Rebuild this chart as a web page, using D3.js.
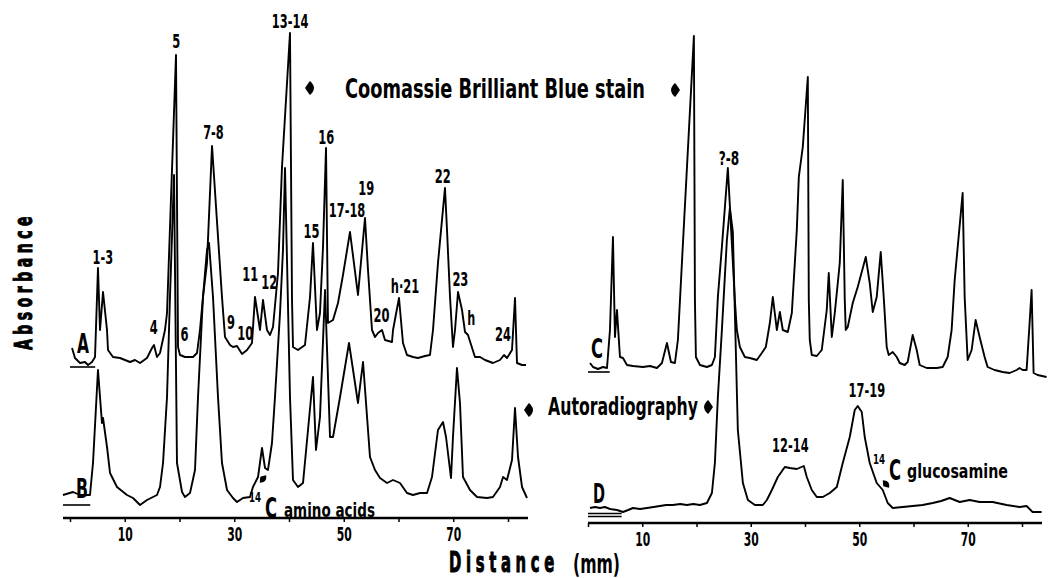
<!DOCTYPE html>
<html><head><meta charset="utf-8">
<script src="https://cdn.jsdelivr.net/npm/d3@7/dist/d3.min.js"></script>
<style>
html,body{margin:0;padding:0;background:#fff;}
svg text{font-family:"Liberation Sans Narrow","DejaVu Sans Condensed","Roboto Condensed","Arial Narrow","DejaVu Sans",sans-serif;font-weight:bold;fill:#000;}
</style></head>
<body><svg id="c" width="1055" height="578"></svg>
<script>
// ---------- DATA (distance in mm, absorbance in relative units) ----------
const traceA = [[0.37,19],[0.91,9],[1.83,4],[2.74,5],[3.29,2],[4.02,5],[4.57,10],[5.11,99],[5.48,37],[6.03,75],[6.76,37],[6.94,17],[7.85,10],[9.13,9],[10.96,5],[11.87,7],[12.79,4],[14.06,9],[14.98,19],[15.34,22],[15.89,10],[16.44,14],[17.35,37],[17.72,54],[19.36,312],[19.73,20],[20.09,12],[21.0,10],[22.47,10],[23.2,14],[23.74,37],[24.29,70],[25.02,104],[25.94,221],[27.76,70],[28.31,30],[29.22,22],[29.77,20],[30.5,21],[31.42,13],[32.33,17],[33.24,24],[33.79,70],[34.7,37],[35.25,67],[35.98,37],[36.53,32],[37.08,40],[37.99,94],[38.72,200],[40.18,334],[40.55,67],[40.73,20],[41.64,17],[42.92,22],[43.84,70],[44.38,124],[45.11,37],[45.66,54],[46.21,120],[46.76,219],[47.12,44],[48.04,47],[48.95,64],[49.86,92],[51.14,135],[52.6,72],[53.88,149],[54.43,97],[55.16,37],[55.71,30],[56.26,34],[56.99,37],[57.53,27],[58.81,25],[59.0,37],[60.09,69],[60.82,24],[61.55,12],[62.65,10],[63.56,9],[64.84,11],[65.75,12],[66.3,37],[67.21,104],[68.49,179],[68.86,137],[69.41,70],[69.95,20],[70.32,37],[70.87,75],[71.6,57],[72.15,35],[72.69,32],[73.97,10],[74.89,10],[75.8,7],[77.26,4],[78.54,7],[79.27,12],[79.82,9],[80.73,17],[81.28,69],[81.64,4],[82.56,2],[83.29,2]];
const traceB = [[-1.28,10],[0.55,13],[1.83,10],[3.65,10],[4.2,42],[5.11,135],[5.84,82],[6.03,87],[6.76,58],[7.31,32],[8.58,18],[10.41,10],[11.51,7],[12.79,0],[14.06,5],[15.16,8],[15.89,10],[16.44,18],[16.99,42],[17.72,108],[18.26,208],[19.0,330],[19.54,42],[20.46,13],[21.0,8],[21.92,12],[22.83,35],[23.38,108],[24.29,208],[25.02,255],[25.39,262],[26.12,208],[27.03,108],[27.76,42],[28.68,15],[29.77,7],[30.5,3],[31.6,7],[32.88,8],[33.42,18],[34.34,28],[35.07,57],[35.62,37],[36.16,35],[36.89,62],[37.44,108],[38.36,192],[38.9,255],[39.27,337],[40.18,108],[40.73,25],[41.64,18],[42.56,22],[43.47,75],[44.38,128],[44.93,55],[45.66,88],[46.58,215],[47.49,68],[48.04,68],[49.32,108],[50.96,162],[52.6,102],[53.52,143],[54.79,48],[55.71,35],[56.62,27],[57.9,22],[59.0,25],[60.27,22],[61.55,12],[62.65,10],[63.93,12],[65.21,12],[66.12,28],[67.21,75],[68.13,83],[68.68,68],[69.59,27],[69.95,68],[70.68,137],[71.23,102],[71.78,28],[73.06,15],[74.34,8],[76.16,7],[77.26,8],[78.54,18],[79.09,28],[79.82,25],[80.73,45],[81.28,97],[81.83,48],[82.56,18],[83.47,7]];
const traceC = [[0.37,9],[0.92,5],[1.84,3],[2.76,5],[3.5,4],[4.05,42],[4.6,135],[4.97,35],[5.34,62],[5.89,15],[6.45,14],[7.18,7],[8.29,6],[10.13,5],[11.42,6],[12.71,4],[13.63,9],[14.55,29],[15.29,10],[16.02,9],[16.57,32],[17.31,109],[19.52,336],[19.71,72],[19.89,15],[20.63,7],[21.92,5],[22.84,7],[23.39,15],[23.94,75],[24.68,125],[25.78,204],[27.07,72],[27.44,42],[27.99,25],[28.91,15],[29.83,14],[31.12,12],[32.04,19],[32.78,25],[33.52,49],[34.07,75],[34.81,42],[35.36,60],[35.91,42],[36.83,40],[37.57,59],[38.49,142],[38.86,195],[39.59,225],[40.52,295],[40.7,72],[40.88,32],[41.25,17],[42.17,16],[43.09,22],[44.01,62],[44.38,99],[44.94,35],[45.49,59],[46.41,109],[46.96,192],[47.33,72],[47.51,42],[47.88,45],[48.8,69],[49.72,85],[51.2,115],[51.93,89],[52.49,60],[53.22,75],[53.96,120],[54.51,75],[55.06,25],[55.43,17],[56.17,20],[56.91,15],[57.46,9],[58.38,7],[58.93,10],[59.85,37],[60.59,22],[61.14,7],[62.43,4],[64.27,4],[65.38,5],[66.3,15],[67.03,42],[67.59,92],[69.06,179],[69.43,75],[69.98,12],[70.72,22],[71.45,52],[72.19,35],[73.11,15],[73.66,5],[74.95,2],[76.43,0],[77.72,-1],[79.01,2],[79.56,4],[80.11,2],[80.85,2],[81.4,49],[81.77,82],[82.14,-1],[82.87,-3],[84.53,-5]];
const traceD = [[0.37,7],[1.3,8],[2.21,7],[3.1,8],[4.05,6],[5.34,5],[6.45,3],[7.4,5],[8.29,7],[9.6,6],[10.87,7],[12.1,8],[13.26,9],[14.4,10],[15.65,10],[17.0,11],[18.23,10],[19.4,11],[20.63,10],[21.92,12],[22.84,22],[23.39,52],[23.94,118],[24.68,185],[25.6,275],[26.15,307],[26.7,283],[27.62,85],[28.55,32],[29.47,15],[30.76,10],[32.23,10],[32.97,15],[33.89,25],[34.99,38],[36.28,48],[37.2,47],[38.49,46],[39.78,49],[40.33,38],[41.25,25],[42.17,18],[43.28,18],[44.57,22],[45.86,28],[46.96,52],[48.25,78],[49.17,105],[49.72,109],[50.46,103],[51.01,78],[51.93,52],[53.22,32],[54.33,25],[55.25,12],[56.17,7],[58.01,8],[59.85,9],[61.69,10],[63.54,12],[65.1,14],[66.67,17],[68.51,13],[70.35,15],[72.19,13],[74.59,13],[77.16,10],[79.56,8],[80.85,9],[81.95,3],[83.61,3]];

const tickValues = [0,10,20,30,40,50,60,70,80];
const tickLabels = [10,30,50,70];

const labelsA = [["1-3",6.0,264],["4",15.3,334],["5",19.4,48],["6",20.9,341],["7-8",26.2,139],["9",29.4,329],["10",32.0,340],["11",32.9,281],["12",36.4,289],["13-14",40.2,28],["15",44.1,238],["16",46.8,144],["17-18",50.6,217],["19",54.1,195],["20",56.9,322],["h·21",61.2,293],["22",68.1,183],["23",71.3,286],["h",73.3,325],["24",79.1,341]];
const labelsD = [["?-8",26.0,165],["12-14",37.3,452],["17-19",51.4,397]];

// ---------- LAYOUT ----------
const svg = d3.select("#c");
const left = {x0:70, x1:508, axisStart:63, axisEnd:528, axisY:518};
const right = {x0:588, x1:1022, axisStart:588, axisEnd:1042, axisY:523};
const xL = d3.scaleLinear().domain([0,80]).range([left.x0,left.x1]);
const xR = d3.scaleLinear().domain([0,80]).range([right.x0,right.x1]);
const yFor = base => d3.scaleLinear().domain([0,340]).range([base, base-340]);
const yA = yFor(367), yB = yFor(505), yC = yFor(372), yD = yFor(515);

function trace(data, xs, ys){
  svg.append("path").datum(data)
    .attr("fill","none").attr("stroke","#000").attr("stroke-width",1.9)
    .attr("stroke-linejoin","round")
    .attr("d", d3.line().x(d=>xs(d[0])).y(d=>ys(d[1])));
}
trace(traceA,xL,yA); trace(traceB,xL,yB); trace(traceC,xR,yC); trace(traceD,xR,yD);

// zero marks
function zero(xs, y, a, b){ svg.append("line").attr("x1",xs(a)).attr("x2",xs(b)).attr("y1",y).attr("y2",y).attr("stroke","#000").attr("stroke-width",1.6); }
zero(xL, yA(0), 0, 4.6); zero(xL, yB(0), -1.28, 3.7); zero(xR, yC(0), 0, 4.0); zero(xR, yD(0)-1.5, 0, 6.2); zero(xR, yD(0)+1.5, 0, 6.2);

// horizontally squeeze a text node to a target width (condensed look)
function squeeze(node, len, x, y, rot){
  const nat = node.getComputedTextLength() || len;
  const s = len / nat;
  node.setAttribute("x",0); node.setAttribute("y",0);
  node.setAttribute("transform",`translate(${x},${y})${rot?` rotate(${rot})`:""} scale(${s},1)`);
}

// axes
function axis(xs, p){
  const g = svg.append("g").attr("transform",`translate(0,${p.axisY})`);
  g.append("line").attr("x1",p.axisStart).attr("x2",p.axisEnd).attr("stroke","#000").attr("stroke-width",2.4);
  const ax = d3.axisBottom(xs).tickValues(tickValues).tickSize(4)
     .tickFormat(d => tickLabels.includes(d) ? d : "");
  const a = g.append("g").call(ax);
  a.select(".domain").remove();
  a.selectAll(".tick line").attr("stroke","#000").attr("stroke-width",1.5);
  a.selectAll(".tick text").attr("dy",0).style("font-size","20px")
    .each(function(){ if(this.textContent) squeeze(this, 15, 0, 23); });
}
axis(xL,left); axis(xR,right);

function txt(s, x, y, size, opts={}){
  const t = svg.append("text").style("font-size",size+"px")
    .attr("text-anchor",opts.anchor||"middle").text(s);
  if(opts.ls) t.style("letter-spacing", opts.ls+"px");
  if(opts.bold) t.attr("stroke","#000").attr("stroke-width",opts.bold);
  squeeze(t.node(), opts.len, x, y, opts.rot);
  return t;
}
const charW = c => (c==="-"||c==="·") ? 4.5 : 8;
const lenOf = s => Array.from(s).reduce((a,c)=>a+charW(c),0);
// peak labels
labelsA.forEach(([s,d,y])=> txt(s, xL(d), y, 19, {len: lenOf(s)}));
labelsD.forEach(([s,d,y])=> txt(s, xR(d), y, 19, {len: lenOf(s)}));

// trace letters
txt("A", 83, 353, 26, {len:12}); txt("B", 82, 498, 26, {len:12});
txt("C", 597, 358, 26, {len:12}); txt("D", 599, 503, 26, {len:12});

// titles
txt("Coomassie  Brilliant  Blue  stain", 345, 98, 27, {anchor:"start", len:300});
txt("Autoradiography", 548, 415, 24, {anchor:"start", len:150});
txt("Absorbance", 32, 281, 24, {len:138, rot:-90, ls:7, bold:1});
txt("Distance", 449, 572, 28, {anchor:"start", len:110, ls:8, bold:1});
txt("(mm)", 573, 573, 27, {anchor:"start", len:47});

// isotope labels
txt("14", 249, 502, 14, {anchor:"start", len:12});
txt("C", 265, 518, 28, {anchor:"start", len:12});
txt("amino  acids", 284, 517, 20, {anchor:"start", len:91});
txt("14", 873, 464, 14, {anchor:"start", len:12});
txt("C", 889, 480, 28, {anchor:"start", len:12});
txt("glucosamine", 907, 478, 20, {anchor:"start", len:101});

// arrow markers (lozenge shapes)
function mark(x,y,rot,sc=1){
  svg.append("path").attr("d","M-5,0 C-3,-3 -1,-6 0,-7 C2,-5 4,-3 4,0 C4,3 2,5 0,7 C-1,6 -3,3 -5,0Z")
    .attr("transform",`translate(${x},${y}) rotate(${rot}) scale(${sc})`).attr("fill","#000");
}
mark(310,88,0); mark(675,90,180); mark(529,410,0); mark(708,407,180);
mark(263,479,40,0.7); mark(886,484,-40,0.7);
</script></body></html>
